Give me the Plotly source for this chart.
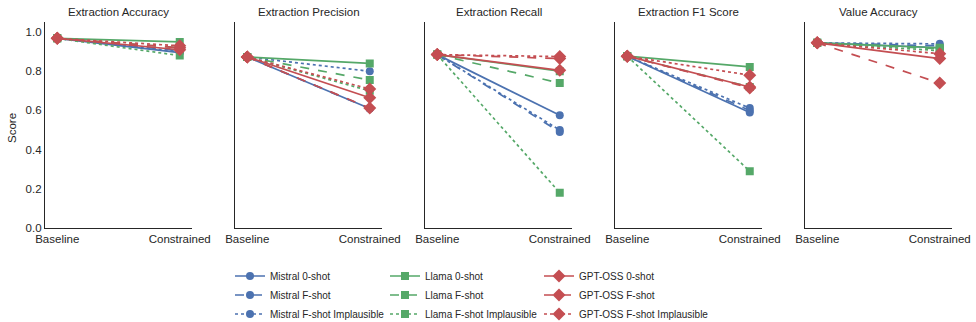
import plotly.graph_objects as go

# ---- data ----
metrics = ["Extraction Accuracy", "Extraction Precision", "Extraction Recall",
           "Extraction F1 Score", "Value Accuracy"]
conditions = ["Baseline", "Constrained"]
baseline = [0.968, 0.873, 0.885, 0.877, 0.945]

series_names = ["Mistral 0-shot", "Mistral F-shot", "Mistral F-shot Implausible",
                "Llama 0-shot", "Llama F-shot", "Llama F-shot Implausible",
                "GPT-OSS 0-shot", "GPT-OSS F-shot", "GPT-OSS F-shot Implausible"]

mistral_0shot = [0.895, 0.610, 0.575, 0.590, 0.920]
mistral_fshot = [0.905, 0.610, 0.490, 0.600, 0.930]
mistral_impl = [0.900, 0.800, 0.500, 0.612, 0.940]
llama_0shot = [0.950, 0.840, 0.800, 0.822, 0.920]
llama_fshot = [0.920, 0.755, 0.740, 0.720, 0.915]
llama_impl = [0.880, 0.700, 0.180, 0.290, 0.905]
gpt_0shot = [0.910, 0.665, 0.805, 0.720, 0.865]
gpt_fshot = [0.920, 0.612, 0.865, 0.715, 0.740]
gpt_impl = [0.930, 0.710, 0.875, 0.780, 0.890]

constrained = [mistral_0shot, mistral_fshot, mistral_impl,
               llama_0shot, llama_fshot, llama_impl,
               gpt_0shot, gpt_fshot, gpt_impl]

# ---- styles ----
colors = ["#4C72B0"] * 3 + ["#55A868"] * 3 + ["#C44E52"] * 3
symbols = ["circle"] * 3 + ["square"] * 3 + ["diamond"] * 3
msizes = [8] * 3 + [8] * 3 + [10] * 3
dashes = ["solid", "dash", "dot"] * 3
legend_ids = ["legend"] * 3 + ["legend2"] * 3 + ["legend3"] * 3

W, H = 976, 322
FONT = "Liberation Sans, Arial, sans-serif"
TXT = "#262626"

fig = go.Figure()

panel_left = 45
panel_step = 190
panel_w = 147
y_top_px, y_bot_px = 22.3, 228

for m in range(len(metrics)):
    ax = "" if m == 0 else str(m + 1)
    x0 = (panel_left + panel_step * m) / W
    x1 = (panel_left + panel_step * m + panel_w) / W
    fig.update_layout(**{
        f"xaxis{ax}": dict(
            domain=[x0, x1], range=[-0.1, 1.1], tickmode="array",
            tickvals=[0, 1], ticktext=conditions, showgrid=False, zeroline=False,
            showline=True, linecolor=TXT, linewidth=1.2, ticks="",
            tickfont=dict(family=FONT, size=11.5, color=TXT), anchor=f"y{ax}",
            automargin=False, fixedrange=True),
        f"yaxis{ax}": dict(
            domain=[1 - y_bot_px / H, 1 - y_top_px / H], range=[0, 1.05],
            tickvals=[0, 0.2, 0.4, 0.6, 0.8, 1.0], tickformat=".1f",
            showticklabels=(m == 0), showgrid=False, zeroline=False,
            showline=True, linecolor=TXT, linewidth=1.2, ticks="",
            tickfont=dict(family=FONT, size=11.5, color=TXT), anchor=f"x{ax}",
            automargin=False, fixedrange=True),
    })
    fig.add_annotation(text=metrics[m], xref="paper", yref="paper",
                       x=(x0 + x1) / 2, y=1 - 12 / H, showarrow=False,
                       font=dict(family=FONT, size=11.5, color=TXT),
                       xanchor="center", yanchor="middle")
    for s in range(len(series_names)):
        fig.add_trace(go.Scatter(
            x=[0, 1], y=[baseline[m], constrained[s][m]],
            mode="lines+markers", name=series_names[s],
            line=dict(color=colors[s], width=1.7, dash=dashes[s]),
            marker=dict(color=colors[s], symbol=symbols[s], size=msizes[s]),
            xaxis=f"x{ax}", yaxis=f"y{ax}",
            showlegend=(m == 0), legend=legend_ids[s]))

fig.add_annotation(text="Score", xref="paper", yref="paper", x=12 / W,
                   y=1 - 128 / H, textangle=-90, showarrow=False,
                   font=dict(family=FONT, size=11.5, color=TXT),
                   xanchor="center", yanchor="middle")

leg_common = dict(font=dict(family=FONT, size=10, color=TXT),
                  bgcolor="rgba(0,0,0,0)", yanchor="middle", xanchor="left",
                  xref="container", yref="container",
                  tracegroupgap=0, orientation="v")
fig.update_layout(
    legend=dict(x=230 / W, y=1 - 295 / H, **leg_common),
    legend2=dict(x=385 / W, y=1 - 295 / H, **leg_common),
    legend3=dict(x=539 / W, y=1 - 295 / H, **leg_common),
)

fig.update_layout(width=W, height=H, margin=dict(l=0, r=0, t=0, b=0, autoexpand=False),
                  plot_bgcolor="white", paper_bgcolor="white",
                  showlegend=True)

fig.write_html("out.html")
